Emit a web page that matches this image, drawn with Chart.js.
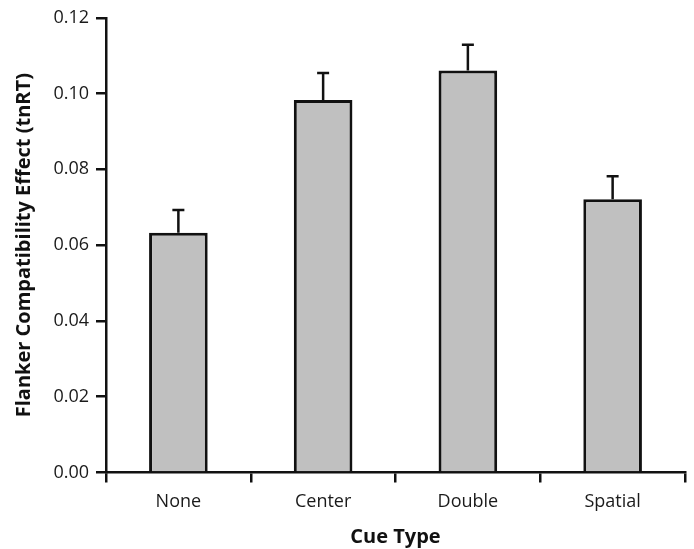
<!DOCTYPE html>
<html>
<head>
<meta charset="utf-8">
<script src="https://cdn.jsdelivr.net/npm/chart.js@4"></script>
<style>
  html, body { margin: 0; padding: 0; background: #fff; }
  #wrap { width: 694px; height: 549px; }
</style>
</head>
<body>
<div id="wrap"><canvas id="chart"></canvas></div>
<script>
const cueTypes = ['None', 'Center', 'Double', 'Spatial'];
const effectMeans = [0.0633, 0.0983, 0.1061, 0.0721];
const effectErrors = [0.0060, 0.0071, 0.0068, 0.0061];
const yTicks = [0.00, 0.02, 0.04, 0.06, 0.08, 0.10, 0.12];

// upward-only error bars drawn from the scales
const errorBars = {
  id: 'errorBars',
  afterDatasetsDraw(chart) {
    const ctx = chart.ctx;
    const y = chart.scales.y;
    const meta = chart.getDatasetMeta(0);
    ctx.save();
    ctx.strokeStyle = '#111';
    ctx.lineWidth = 2.5;
    meta.data.forEach((bar, i) => {
      const top = y.getPixelForValue(effectMeans[i] + effectErrors[i]);
      const base = y.getPixelForValue(effectMeans[i]);
      ctx.beginPath();
      ctx.moveTo(bar.x, base);
      ctx.lineTo(bar.x, top);
      ctx.moveTo(bar.x - 6, top);
      ctx.lineTo(bar.x + 6, top);
      ctx.stroke();
    });
    ctx.restore();
  }
};

new Chart(document.getElementById('chart'), {
  type: 'bar',
  data: {
    labels: cueTypes,
    datasets: [{
      data: effectMeans,
      backgroundColor: '#c0c0c0',
      borderColor: '#111',
      borderWidth: 3,
      categoryPercentage: 1,
      barPercentage: 0.405
    }]
  },
  options: {
    responsive: true,
    maintainAspectRatio: false,
    animation: false,
    layout: { padding: { top: 16, right: 9 } },
    plugins: { legend: { display: false }, tooltip: { enabled: false } },
    scales: {
      x: {
        afterFit: (s) => { s.height = 76.5; },
        border: { display: true, color: '#111', width: 2.5 },
        grid: { offset: true, drawOnChartArea: false, drawTicks: true, tickLength: 10, color: '#111', lineWidth: 2.5 },
        ticks: { color: '#1a1a1a', padding: 9, font: { family: 'Open Sans', size: 18 } },
        title: {
          display: true, text: 'Cue Type', color: '#111',
          padding: { top: 0, bottom: 0 },
          font: { family: 'Open Sans', size: 20, weight: 'bold' }
        }
      },
      y: {
        min: 0,
        max: 0.12,
        afterFit: (s) => { s.width = 106; },
        afterBuildTicks: (s) => { s.ticks = yTicks.map(v => ({ value: v })); },
        border: { display: true, color: '#111', width: 2.5 },
        grid: { drawOnChartArea: false, drawTicks: true, tickLength: 10, color: '#111', lineWidth: 2.5 },
        ticks: {
          color: '#1a1a1a', padding: 7,
          font: { family: 'Open Sans', size: 18 },
          callback: (v) => Number(v).toFixed(2)
        },
        title: {
          display: true, text: 'Flanker Compatibility Effect (tnRT)', color: '#111',
          padding: { top: 12, bottom: 0 },
          font: { family: 'Open Sans', size: 20, weight: 'bold' }
        }
      }
    }
  },
  plugins: [errorBars]
});
</script>
</body>
</html>
